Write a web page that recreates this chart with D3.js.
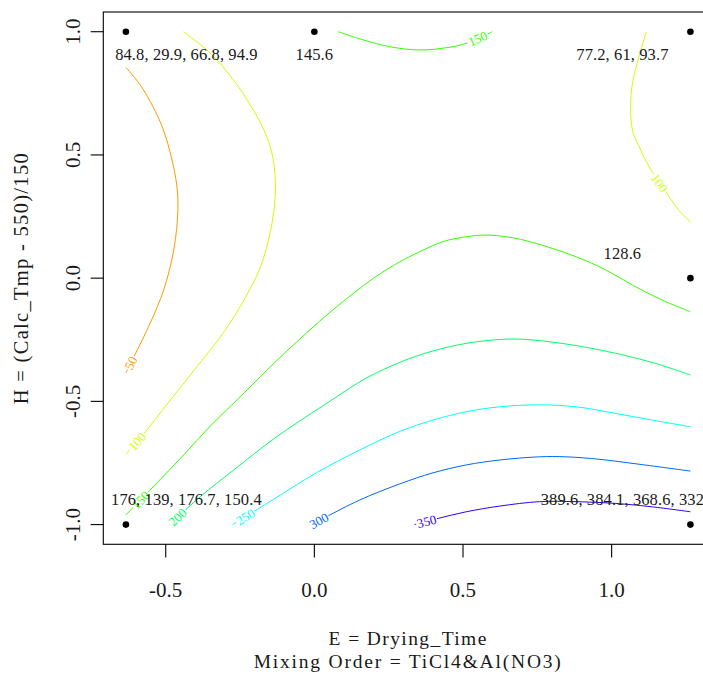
<!DOCTYPE html>
<html>
<head>
<meta charset="utf-8">
<script src="https://cdn.jsdelivr.net/npm/d3@7/dist/d3.min.js"></script>
<style>
  html, body { margin: 0; padding: 0; background: #fff; }
  svg { display: block; }
  text { font-family: "Liberation Serif", "DejaVu Serif", serif; fill: #1a1a1a; }
</style>
</head>
<body>
<svg id="chart" width="703" height="676"></svg>
<script>
// ---------------- DATA ----------------
const eTicks = [-0.5, 0.0, 0.5, 1.0];
const eTickLabels = ["-0.5", "0.0", "0.5", "1.0"];
const hTicks = [-1.0, -0.5, 0.0, 0.5, 1.0];
const hTickLabels = ["-1.0", "-0.5", "0.0", "0.5", "1.0"];

const xTitle = "E = Drying_Time";
const xSubTitle = "Mixing Order = TiCl4&Al(NO3)";
const yTitle = "H = (Calc_Tmp - 550)/150";

// design points (coded units) and their observed responses
const designE = [-0.634, 0.0, 1.265, 1.265, -0.634, 1.265];
const designH = [1.0, 1.0, 1.0, 0.0, -1.0, -1.0];
const designText = [
  "84.8, 29.9, 66.8, 94.9",
  "145.6",
  "77.2, 61, 93.7",
  "128.6",
  "176, 139, 176.7, 150.4",
  "389.6, 384.1, 368.6, 332"
];

// contour levels
const levels = [50, 100, 150, 200, 250, 300, 350];

// contour polylines, [E, H]
const contour50 = [[-0.634,-0.384],[-0.607,-0.319],[-0.552,-0.182],[-0.507,-0.048],[-0.473,0.114],
  [-0.459,0.277],[-0.463,0.378],[-0.479,0.480],[-0.512,0.615],[-0.579,0.772],[-0.634,0.855]];
const contour100a = [[-0.634,-0.714],[-0.579,-0.639],[-0.490,-0.503],[-0.395,-0.359],
  [-0.306,-0.221],[-0.239,-0.093],[-0.182,0.043],[-0.149,0.183],[-0.136,0.277],[-0.131,0.371],
  [-0.138,0.479],[-0.160,0.574],[-0.205,0.682],[-0.272,0.804],[-0.350,0.913],[-0.440,1.000]];
const contour100b = [[1.265,0.228],[1.224,0.279],[1.182,0.351],[1.126,0.452],[1.098,0.520],
  [1.070,0.601],[1.064,0.696],[1.070,0.791],[1.092,0.899],[1.117,1.000]];
const contour150a = [[0.598,1.000],[0.511,0.953],[0.444,0.935],[0.354,0.926],[0.254,0.939],
  [0.164,0.967],[0.080,1.000]];
const contour150b = [[-0.634,-0.961],[-0.540,-0.844],[-0.440,-0.718],[-0.350,-0.600],[-0.255,-0.488],
  [-0.126,-0.334],[-0.026,-0.222],[0.063,-0.128],[0.198,-0.001],[0.287,0.066],
  [0.354,0.107],[0.432,0.148],[0.511,0.168],[0.578,0.175],[0.656,0.166],[0.734,0.145],
  [0.880,0.087],[0.981,0.033],[1.070,-0.028],[1.170,-0.089],[1.265,-0.136]];
const contour200 = [[-0.487,-1.000],[-0.384,-0.887],[-0.272,-0.779],[-0.126,-0.643],[0.058,-0.495],
  [0.175,-0.405],[0.287,-0.342],[0.354,-0.312],[0.455,-0.278],[0.567,-0.255],[0.679,-0.247],
  [0.790,-0.258],[0.902,-0.278],[1.025,-0.308],[1.148,-0.346],[1.265,-0.393]];
const contour250 = [[-0.275,-1.000],[-0.138,-0.898],[0.008,-0.789],[0.153,-0.697],[0.287,-0.622],
  [0.399,-0.576],[0.511,-0.542],[0.623,-0.522],[0.757,-0.514],[0.880,-0.522],[1.014,-0.549],
  [1.137,-0.576],[1.265,-0.603]];
const contour300 = [[-0.008,-1.000],[0.041,-0.968],[0.153,-0.900],[0.287,-0.835],[0.399,-0.790],
  [0.511,-0.758],[0.623,-0.738],[0.757,-0.725],[0.846,-0.725],[0.958,-0.735],[1.092,-0.755],
  [1.265,-0.783]];
const contour350 = [[0.337,-1.000],[0.416,-0.975],[0.511,-0.948],[0.623,-0.925],[0.757,-0.907],
  [0.880,-0.907],[1.014,-0.914],[1.137,-0.928],[1.265,-0.948]];

const contours = [
  { level: 50,  pts: contour50 },
  { level: 100, pts: contour100a },
  { level: 100, pts: contour100b },
  { level: 150, pts: contour150a },
  { level: 150, pts: contour150b },
  { level: 200, pts: contour200 },
  { level: 250, pts: contour250 },
  { level: 300, pts: contour300 },
  { level: 350, pts: contour350 }
];

// ---------------- LAYOUT ----------------
const labelAlong = [11, 17, 50, 16, 21, 11, 15, 8, 12.5]; // px along each path for its label
const svg = d3.select("#chart");
const plot = { left: 103.3, right: 713, top: 12, bottom: 544.3 };

const x = d3.scaleLinear().domain([-0.710, 1.341]).range([plot.left, plot.right]);
const y = d3.scaleLinear().domain([-1.08, 1.08]).range([plot.bottom, plot.top]);

// colour: R rainbow(10) indexed by level
const colour = lev => d3.hsl((lev / 50) * 36, 1, 0.5).formatHex();

// contour lines
const line = d3.line().x(d => x(d[0])).y(d => y(d[1])).curve(d3.curveCatmullRom.alpha(0.5));
const gC = svg.append("g");
const paths = contours.map(c =>
  gC.append("path")
    .attr("d", line(c.pts))
    .attr("fill", "none")
    .attr("stroke", colour(c.level))
    .attr("stroke-width", 1)
    .node()
);

// contour labels
const gL = svg.append("g");
contours.forEach((c, i) => {
  const p = paths[i];
  const L = p.getTotalLength();
  const s = Math.min(labelAlong[i], L);
  const pt = p.getPointAtLength(s);
  const a = p.getPointAtLength(Math.max(0, s - 4));
  const b = p.getPointAtLength(Math.min(L, s + 4));
  let ang = Math.atan2(b.y - a.y, b.x - a.x) * 180 / Math.PI;
  if (ang > 90) ang -= 180;
  if (ang <= -90) ang += 180;
  const g = gL.append("g").attr("transform", `translate(${pt.x},${pt.y}) rotate(${ang})`);
  const t = g.append("text")
    .attr("text-anchor", "middle")
    .attr("dy", "0.35em")
    .style("font-size", "13px")
    .style("fill", colour(c.level))
    .text(c.level);
  const w = t.node().getComputedTextLength();
  g.insert("rect", "text")
    .attr("x", -w / 2 - 1).attr("y", -4).attr("width", w + 2).attr("height", 8)
    .attr("fill", "#fff");
});

// frame
svg.append("rect")
  .attr("x", plot.left).attr("y", plot.top)
  .attr("width", plot.right - plot.left).attr("height", plot.bottom - plot.top)
  .attr("fill", "none").attr("stroke", "#000").attr("stroke-width", 1.1);

// design points
svg.append("g").selectAll("circle").data(designE).join("circle")
  .attr("cx", d => x(d)).attr("cy", (d, i) => y(designH[i]))
  .attr("r", 3.3).attr("fill", "#000");

svg.append("g").selectAll("text").data(designText).join("text")
  .attr("x", (d, i) => x(designE[i]) + (designE[i] < -0.5 ? 60.5 : designE[i] > 1 ? -68 : 0))
  .attr("y", (d, i) => y(designH[i]) + (designH[i] > 0.5 ? 28.7 : -19.3))
  .attr("text-anchor", "middle")
  .style("font-size", "16.5px")
  .style("letter-spacing", "0.1px")
  .text(d => d);

// x axis
const gx = svg.append("g");
eTicks.forEach((v, i) => {
  gx.append("line").attr("x1", x(v)).attr("x2", x(v))
    .attr("y1", plot.bottom).attr("y2", plot.bottom + 13.2)
    .attr("stroke", "#000").attr("stroke-width", 1.1);
  gx.append("text").attr("x", x(v)).attr("y", 597)
    .attr("text-anchor", "middle").style("font-size", "21px")
    .text(eTickLabels[i]);
});

// y axis
const gy = svg.append("g");
hTicks.forEach((v, i) => {
  gy.append("line").attr("x1", plot.left - 12.6).attr("x2", plot.left)
    .attr("y1", y(v)).attr("y2", y(v))
    .attr("stroke", "#000").attr("stroke-width", 1.1);
  gy.append("text")
    .attr("transform", `translate(80,${y(v)}) rotate(-90)`)
    .attr("text-anchor", "middle").style("font-size", "21px")
    .text(hTickLabels[i]);
});

// titles
const cx = (plot.left + plot.right) / 2;
svg.append("text").attr("x", cx).attr("y", 645)
  .attr("text-anchor", "middle").style("font-size", "19.5px").style("letter-spacing", "1.4px")
  .text(xTitle);
svg.append("text").attr("x", cx).attr("y", 668)
  .attr("text-anchor", "middle").style("font-size", "19.5px").style("letter-spacing", "1.8px")
  .text(xSubTitle);
svg.append("text")
  .attr("transform", `translate(27.5,${(plot.top + plot.bottom) / 2}) rotate(-90)`)
  .attr("text-anchor", "middle").style("font-size", "20.5px").style("letter-spacing", "1.3px")
  .text(yTitle);
</script>
</body>
</html>
